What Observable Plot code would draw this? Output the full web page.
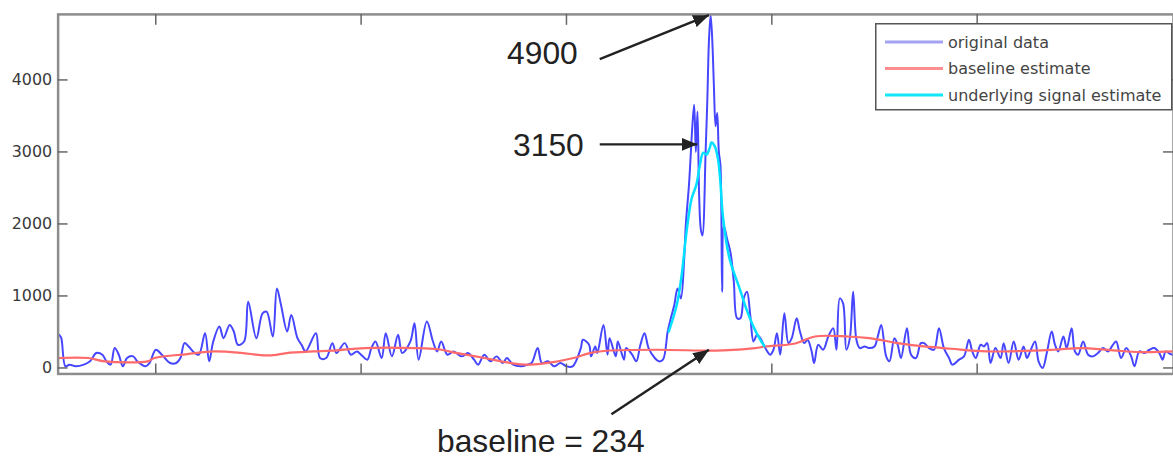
<!DOCTYPE html>
<html><head><meta charset="utf-8">
<script src="https://cdn.jsdelivr.net/npm/d3@7"></script>
<script src="https://cdn.jsdelivr.net/npm/@observablehq/plot@0.6"></script>
<style>
html,body{margin:0;padding:0;background:#fff;overflow:hidden;}
#wrap{position:relative;width:1173px;height:460px;overflow:hidden;}
#legend{position:absolute;left:875px;top:23px;}
</style></head><body><div id="wrap"></div>
<script>
// sample index (x) and counts (y)
const origX = [53,54,56,58,61,65,68,71,74,76,78,80,82,84,86,89,91,95,97,100,103,107,110,112,114,116,119,121,124,126,128,131,133,136,138,140,143,145,149,152,154,157,159,161,164,166,169,171,173,
178,180,183,186,188,192,195,198,200,203,205,207,210,212,215,218,220,224,226,228,232,235,237,239,242,245,249,252,255,257,260,263,266,269,271,274,278,281,283,286,288,291,294,297,300,303,307,308,311,312,314,315,318,320,321,324,325,328,329,332,334,336,338,340,343,345,347,349.3,
350.9,352.5,354.1,355.7,357.3,358.1,359.7,361.4,362.2,363.0,363.8,364.6,365.4,366.2,367.8,368.6,369.4,370.2,371.0,371.8,372.6,373.4,374.2,375.0,375.8,376.6,378.2,379.9,381.5,383.1,384.7,386.3,387.9,389.5,391.1,392.8,394.4,396.0,397.8,399.2,400.8,402.5,404.1,406.1,408.1,409.7,412.1,413.7,415.8,417.4,419.4,420.6,422.6,425,427.5,429.9,431.5,433.1,434.7,436.3,438,439.6,441.2,442.8,445.2,447.6,450,451.6,453.3,455.7,457.3,459.7,461.3,462.9,465.8,467.8,470.2,472.6,474.2,476.6,479,481.4,483.8,486.3,487.9,491.2,493.6,496,497.6,499.3,501.7,503.3,504.9,506.5,508.9,511.4,512.9,515.3,517.8,520.2,522.6,524.2,525.8,528.2,529.9,531.9,533.9,536.3,537.9,539.5,542,543.6,546,547.6,549.2,551.6,554,556.4,558.8,561.3,563.7,566.1,567.7,570.1,572.6,575,576.6,579,581.5,583.9,586.3,588.7,590.3,591.8,593.7,595.6];
const origY = [460,414,23,46,23,46,92,207,184,92,46,276,184,23,138,161,92,23,69,253,184,69,69,138,345,299,207,184,483,92,368,575,414,598,506,322,368,920,414,759,782,437,1104,874,506,736,414,322,230,
483,138,138,345,207,345,184,230,184,115,276,368,138,483,161,460,207,368,621,115,644,368,230,368,184,230,161,207,115,46,184,92,161,69,138,46,23,46,69,276,69,92,23,69,23,23,276,391,322,161,299,207,598,184,414,161,368,115,276,184,92,322,483,276,138,92,115,506,
700,874,1104,966,1500,1978,2560,3400,3657,3000,3560,2400,1932,1840,3036,3726,4554,4900,4554,3910,3358,3542,3000,2806,1058,1978,1794,1600,1196,690,690,966,1058,735,368,460,414,322,230,184,253,483,184,759,345,414,690,506,345,391,230,69,322,253,437,552,253,966,897,253,414,1058,391,276,299,276,299,437,598,161,92,414,322,138,552,184,138,345,345,276,253,552,276,138,46,115,161,391,230,138,322,299,345,69,276,138,345,69,368,115,299,138,230,368,92,0,207,506,322,230,437,276,552,230,184,368,184,161,207,276,230,322,368,138,276,161,23,230,207,253,276,207,115,230,200,180];

const baseX = [52.5,67,75.2,96,99.4,115.3,128.4,141.5,151.1,157.4,163.7,176.7,185.5,201.9,226.1,237.2,246.9,260,272.6,282.2,295.3,303.5,311.3,319.5,343.7,369.3,376.1,392,396.9,411.4,421,437,447.6,461.2,474.2,487.3,504.7,537.1,550.2,566.1,579.2,595.6];
const baseY = [138,138,92,92,138,193,230,210,179,179,207,230,240,276,276,260,207,138,69,46,90,138,207,239,253,240,245,276,299,340,437,437,414,345,299,267,230,253,276,245,221,230];

const sigX = [349.8,353.7,356.1,357.7,359.3,360.9,363.3,364.9,366.6,368.2,369.8,370.6,372.2,373.8,374.9,376.2,379.4,384.3,387.5,390.7,393.9,396.3];
const sigY = [506,874,1288,1702,2070,2346,2550,2806,2990,2960,3060,3130,3080,2900,2600,2100,1518,1104,828,598,414,304];

const yTicks = [0,1000,2000,3000,4000];
const xTicks = [100,200,300,400,500];

const annLabels = ["4900","3150","baseline = 234"];
const annX = [288.3,291.2,287.5];
const annY = [4361,3091,-1021];
const arrowX1 = [316.2,316.2,321.9];
const arrowY1 = [4288,3105,-644];
const arrowX2 = [369.4,363.8,369.4];
const arrowY2 = [4899,3105,253];

const legendLabels = ["original data","baseline estimate","underlying signal estimate"];
const legendColors = ["#a3a3f2","#ff8f8f","#12e6f8"];

const blue = origX.map((x,i)=>({x, y: origY[i]}));
const base = baseX.map((x,i)=>({x, y: baseY[i]}));
const sig = sigX.map((x,i)=>({x, y: sigY[i]}));
const ann = annLabels.map((t,i)=>({t, x: annX[i], y: annY[i]}));
const arrows = arrowX1.map((x1,i)=>({x1, y1: arrowY1[i], x2: arrowX2[i], y2: arrowY2[i]}));

function arrowHead(color) {
  const m = d3.create("svg:marker")
    .attr("viewBox","-16 -6.5 16 13").attr("markerWidth",16).attr("markerHeight",13)
    .attr("markerUnits","userSpaceOnUse").attr("orient","auto").attr("refX",0).attr("refY",0);
  m.append("path").attr("d","M0,0L-16,-6.5L-16,6.5Z").attr("fill",color).attr("stroke","none");
  return m.node();
}

const W = 1181, H = 460, ML = 58, MR = 0, MT = 14, MB = 84;
const fw = W - ML - MR, fh = H - MT - MB;

const chart = Plot.plot({
  width: W, height: H,
  marginLeft: ML, marginRight: MR, marginTop: MT, marginBottom: MB,
  x: {domain: [52.45, 595.6], axis: null},
  y: {domain: [-83, 4910], axis: null},
  style: {background: "transparent", overflow: "visible", fontFamily: "DejaVu Sans", color: "#333"},
  marks: [
    Plot.line(blue, {x: "x", y: "y", stroke: "#4646ff", strokeWidth: 2, curve: "catmull-rom", strokeLinejoin: "round"}),
    Plot.line(base, {x: "x", y: "y", stroke: "#ff6a6a", strokeWidth: 2.2, curve: "catmull-rom"}),
    Plot.line(sig, {x: "x", y: "y", stroke: "#00e0ff", strokeWidth: 2.5, curve: "catmull-rom"}),
    Plot.frame({stroke: "#8c8c8c", strokeWidth: 2.5}),
    Plot.ruleY(yTicks, {y: d => d, stroke: "#666", strokeWidth: 1.5, insetRight: fw - 10}),
    Plot.ruleY(yTicks, {y: d => d, stroke: "#666", strokeWidth: 1.5, insetLeft: fw - 10}),
    Plot.ruleX(xTicks, {x: d => d, stroke: "#666", strokeWidth: 1.5, insetBottom: fh - 11}),
    Plot.ruleX(xTicks, {x: d => d, stroke: "#666", strokeWidth: 1.5, insetTop: fh - 10}),
    Plot.axisY(yTicks, {tickSize: 0, tickPadding: 6, tickFormat: d => String(d), fontSize: 16, fill: "#3a3a3a"}),
    Plot.link(arrows, {x1: "x1", y1: "y1", x2: "x2", y2: "y2", stroke: "#222", strokeWidth: 2.5, markerEnd: arrowHead}),
    Plot.text(ann, {x: "x", y: "y", text: "t", fontSize: 32, fontFamily: "Liberation Sans, Arial, sans-serif", fill: "#222", lineAnchor: "middle"})
  ]
});
const wrap = document.getElementById("wrap");
wrap.appendChild(chart);

// legend box inside the axes
const lg = d3.select(wrap).append("svg").attr("id","legend").attr("width",300).attr("height",90);
lg.append("rect").attr("x",0.75).attr("y",0.75).attr("width",296).attr("height",86)
  .attr("fill","#fff").attr("stroke","#555").attr("stroke-width",1.5);
legendLabels.forEach((t,i) => {
  const yy = 19 + i*26.5;
  lg.append("line").attr("x1",10).attr("x2",68).attr("y1",yy).attr("y2",yy)
    .attr("stroke",legendColors[i]).attr("stroke-width",3);
  lg.append("text").attr("x",73).attr("y",yy).attr("dy","0.35em")
    .attr("font-family","DejaVu Sans").attr("font-size",16).attr("fill","#444").text(t);
});
</script></body></html>
